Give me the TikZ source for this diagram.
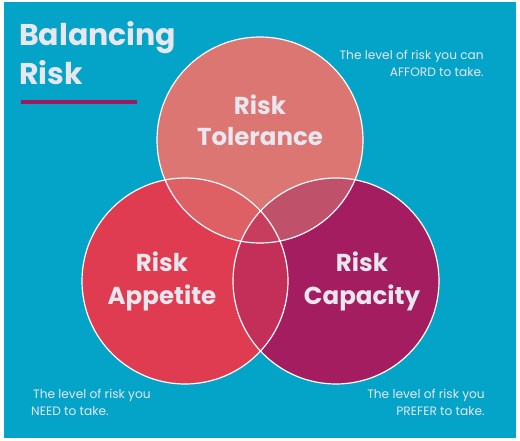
\documentclass[tikz,border=0pt]{standalone}
\usepackage{fontspec}
\setmainfont{Poppins}
\definecolor{bg}{HTML}{03A4C8}
\definecolor{ctol}{HTML}{DB7672}
\definecolor{capp}{HTML}{DF3B51}
\definecolor{ccap}{HTML}{A31D60}
\definecolor{ctl}{HTML}{DE6064}
\definecolor{ctr}{HTML}{C0516B}
\definecolor{clr}{HTML}{C32F59}
\definecolor{call}{HTML}{C73D5E}
\definecolor{txt}{HTML}{E8E6EE}
\definecolor{bar}{HTML}{9E1A5E}
\tikzset{
  title/.style={text=txt,inner sep=0pt,font=\bfseries\fontsize{30}{30}\selectfont},
  lbl/.style={text=txt,inner sep=0pt,anchor=base,font=\bfseries\fontsize{24.5}{24.5}\selectfont},
  captxt/.style={text=txt,inner sep=0pt,font=\fontsize{12.2}{12.2}\selectfont},
  ring/.style={draw=white!90!txt,line width=1.2pt}
}
\begin{document}
\begin{tikzpicture}[x=1pt,y=-1pt]
\useasboundingbox (0,0) rectangle (520,441);
\fill[white] (0,0) rectangle (520,441);
\fill[bg] (4,2) rectangle (516,438);
% circles
\fill[ctol] (260,140) circle (103);
\fill[capp] (185,281) circle (103);
\fill[ccap] (336,281) circle (103);
\begin{scope}
  \clip (260,140) circle (103);
  \fill[ctl] (185,281) circle (103);
  \fill[ctr] (336,281) circle (103);
\end{scope}
\begin{scope}
  \clip (185,281) circle (103);
  \fill[clr] (336,281) circle (103);
  \clip (336,281) circle (103);
  \fill[call] (260,140) circle (103);
\end{scope}
\draw[ring] (260,140) circle (103);
\draw[ring] (185,281) circle (103);
\draw[ring] (336,281) circle (103);
% title
\node[title,anchor=base west] (t1) at (19,46) {Balancing};
\node[title,anchor=base west] (t2) at (19,85) {Risk};
\fill[bar] (21,100) rectangle (137,104);
% labels
\node[lbl] (a1) at (260,115) {Risk};
\node[lbl] (a2) at (260,146) {Tolerance};
\node[lbl] (b1) at (162,272) {Risk};
\node[lbl] (b2) at (162,304) {Appetite};
\node[lbl] (c1) at (362,272) {Risk};
\node[lbl] (c2) at (362,304) {Capacity};
% captions
\node[captxt,anchor=base east] (d1) at (484,60) {The level of risk you can};
\node[captxt,anchor=base east] (d2) at (484,77) {AFFORD to take.};
\node[captxt,anchor=base west] (e1) at (33,398) {The level of risk you};
\node[captxt,anchor=base west] (e2) at (31,415) {NEED to take.};
\node[captxt,anchor=base east] (f1) at (485,398) {The level of risk you};
\node[captxt,anchor=base east] (f2) at (485,415) {PREFER to take.};
\end{tikzpicture}
\end{document}
